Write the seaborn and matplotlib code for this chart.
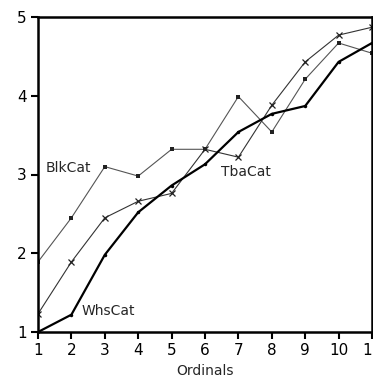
import numpy as np
import pandas as pd
import matplotlib
matplotlib.use("Agg")
import matplotlib.pyplot as plt
import seaborn as sns

ordinals = [1, 2, 3, 4, 5, 6, 7, 8, 9, 10, 11]
blk_cat = [1.89, 2.45, 3.10, 2.98, 3.32, 3.32, 3.99, 3.54, 4.21, 4.67, 4.54]
tba_cat = [1.23, 1.89, 2.45, 2.66, 2.76, 3.32, 3.22, 3.88, 4.43, 4.77, 4.87]
whs_cat = [1.00, 1.22, 1.98, 2.52, 2.86, 3.13, 3.54, 3.77, 3.87, 4.43, 4.67]

sns.set_style("ticks")
plt.rcParams['font.family'] = ['DejaVu Sans']

fig = plt.figure(figsize=(3.73, 3.83), dpi=100)
ax = fig.add_axes([38 / 373, 51 / 383, 334 / 373, 315 / 383])

# one line per category, styled like the old mac plot
sns.lineplot(x=ordinals, y=blk_cat, ax=ax, color='#555555', linewidth=0.8,
             marker='s', markersize=3.5, markeredgewidth=0, markerfacecolor='#222222')
sns.lineplot(x=ordinals, y=tba_cat, ax=ax, color='#333333', linewidth=0.8,
             marker='x', markersize=4, markeredgewidth=0.9, markeredgecolor='#222222')
sns.lineplot(x=ordinals, y=whs_cat, ax=ax, color='black', linewidth=1.6,
             marker='o', markersize=2.5, markeredgewidth=0, markerfacecolor='black')

ax.text(1.91, 3.08, 'BlkCat', fontsize=10, ha='center', va='center')
ax.text(7.24, 3.03, 'TbaCat', fontsize=10, ha='center', va='center')
ax.text(3.1, 1.27, 'WhsCat', fontsize=10, ha='center', va='center')

ax.set_xlim(1, 11)
ax.set_ylim(1, 5)
ax.set_xticks(ordinals)
ax.set_yticks([1, 2, 3, 4, 5])
ax.set_xlabel('Ordinals', fontsize=10, labelpad=4)
ax.set_ylabel('')
ax.tick_params(axis='both', direction='out', length=5, width=1.5, labelsize=11,
               pad=3, colors='black')
for s in ax.spines.values():
    s.set_linewidth(1.8)
    s.set_color('black')
    s.set_visible(True)

fig.savefig('out.png', dpi=100)
